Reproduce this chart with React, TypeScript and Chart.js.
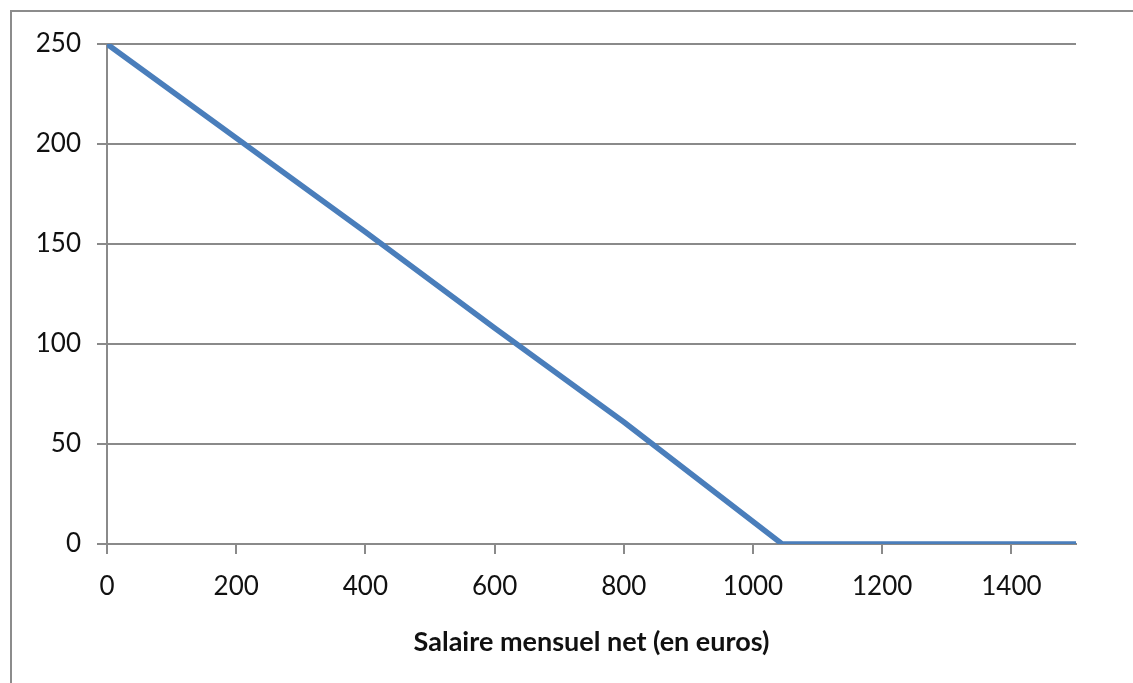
import React, { useEffect, useRef } from "react";
import { Chart, registerables } from "chart.js";

Chart.register(...registerables);

// Salaire mensuel net (euros) and the corresponding amount
const salaire = [0, 200, 400, 600, 800, 1045, 1500];
const montant = [250, 203, 156, 108, 61, 0, 0];

const xTitle = "Salaire mensuel net (en euros)";
const xMin = 0;
const xMax = 1500;
const xStep = 200;
const yMin = 0;
const yMax = 250;
const yStep = 50;

const FONT = "Lato, 'Open Sans', sans-serif";

export default function App() {
  const canvasRef = useRef<HTMLCanvasElement | null>(null);

  useEffect(() => {
    if (!canvasRef.current) return;
    const chart = new Chart(canvasRef.current, {
      type: "line",
      data: {
        datasets: [
          {
            data: salaire.map((s, i) => ({ x: s, y: montant[i] })),
            borderColor: "#4A7EBB",
            borderWidth: 5.5,
            pointRadius: 0,
            tension: 0,
            fill: false,
            borderCapStyle: "butt",
            borderJoinStyle: "round",
          },
        ],
      },
      options: {
        animation: false,
        responsive: false,
        devicePixelRatio: 1,
        layout: { padding: { left: 0, top: 44, right: 57, bottom: 0 } },
        plugins: {
          legend: { display: false },
          tooltip: { enabled: false },
        },
        scales: {
          x: {
            type: "linear",
            min: xMin,
            max: xMax,
            afterFit: (scale: any) => {
              scale.height = 139;
            },
            ticks: {
              stepSize: xStep,
              includeBounds: false,
              color: "#111",
              font: { family: FONT, size: 26 },
              padding: 17,
              maxRotation: 0,
              callback: (v: any) => String(v),
            },
            grid: {
              drawOnChartArea: false,
              drawTicks: true,
              tickLength: 10,
              color: "#8a8a8a",
              lineWidth: 2,
            },
            border: { display: true, color: "#8a8a8a", width: 2 },
            title: {
              display: true,
              text: xTitle,
              color: "#111",
              font: { family: FONT, size: 27, weight: "bold" },
              padding: { top: 4, bottom: 25 },
            },
          },
          y: {
            type: "linear",
            min: yMin,
            max: yMax,
            afterFit: (scale: any) => {
              scale.width = 107;
            },
            ticks: {
              stepSize: yStep,
              color: "#111",
              font: { family: FONT, size: 26 },
              padding: 16,
              callback: (v: any) => String(v),
            },
            grid: {
              drawOnChartArea: true,
              drawTicks: true,
              tickLength: 10,
              color: "#8a8a8a",
              lineWidth: 2,
            },
            border: { display: true, color: "#8a8a8a", width: 2 },
          },
        },
      },
    });
    return () => chart.destroy();
  }, []);

  return (
    <div
      style={{
        position: "fixed",
        left: 0,
        top: 0,
        width: 1133,
        height: 683,
        background: "#fff",
        overflow: "hidden",
      }}
    >
      <div
        style={{
          position: "absolute",
          left: 10,
          top: 10,
          width: 1200,
          height: 800,
          borderLeft: "2px solid #8c8c8c",
          borderTop: "2px solid #8c8c8c",
        }}
      />
      <canvas
        ref={canvasRef}
        width={1133}
        height={683}
        style={{ position: "absolute", left: 0, top: 0 }}
      />
    </div>
  );
}
